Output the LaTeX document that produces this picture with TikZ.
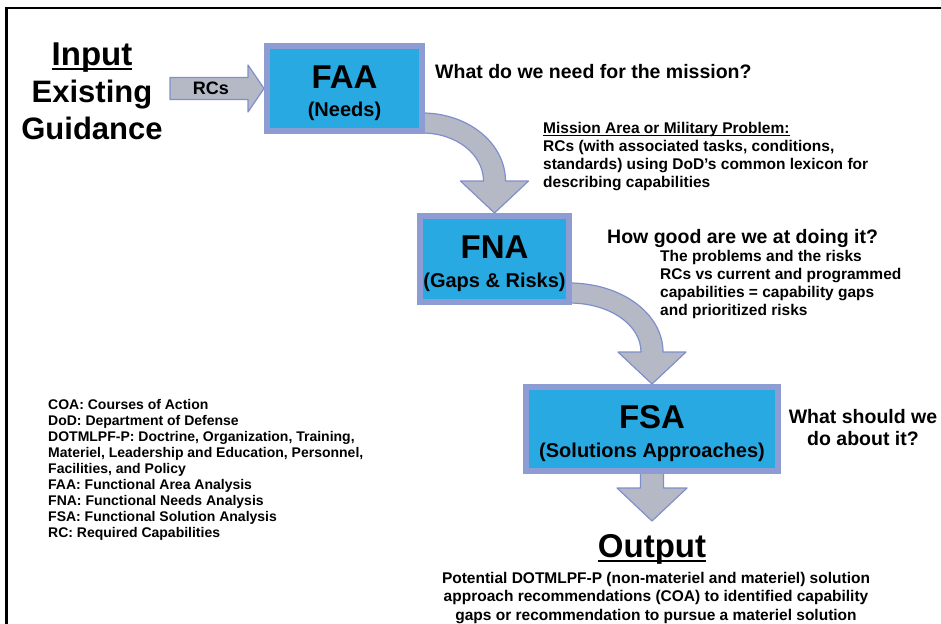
\documentclass[tikz,border=0pt]{standalone}
\usepackage{fontspec}
\setmainfont{Liberation Sans}
\usetikzlibrary{calc,backgrounds}

\definecolor{boxblue}{HTML}{29A9E1}
\definecolor{boxedge}{HTML}{8E9CD4}
\definecolor{arrowgrey}{HTML}{B5B9C6}
\definecolor{arrowedge}{HTML}{7F8FCC}

\newcommand{\fsz}[2]{\fontsize{#1}{#2}\selectfont}
\newcommand{\boxtext}[2]{\fsz{33}{36}\rule{0pt}{32pt}#1\\[13pt]\fsz{20}{24}#2}
\newsavebox{\ulbox}
\newcommand{\ulbig}[1]{\sbox{\ulbox}{#1}\rlap{\rule[-5.2pt]{\wd\ulbox}{2.6pt}}\usebox{\ulbox}}
\newcommand{\ulsmall}[1]{\sbox{\ulbox}{#1}\rlap{\rule[-2.6pt]{\wd\ulbox}{1.2pt}}\usebox{\ulbox}}

\begin{document}
\begin{tikzpicture}[x=1pt, y=-1pt,
    box/.style={rectangle, draw=boxedge, line width=6pt, fill=boxblue, inner sep=0pt, align=center, font=\bfseries},
    bigarrow/.style={draw=arrowedge, fill=arrowgrey, line width=1.2pt, line join=round},
    note/.style={inner sep=0pt, align=left, font=\bfseries}
]
\useasboundingbox (0,0) rectangle (941,623);

% Frame
\draw[line width=2.6pt] (6.5,650) -- (6.5,8) -- (960,8);

% Analysis boxes
\node[box, minimum width=155, minimum height=85] (faa) at (344.5,88.5) {\boxtext{FAA}{(Needs)}};
\node[box, minimum width=149, minimum height=86] (fna) at (494.5,259) {\boxtext{FNA}{(Gaps \& Risks)}};
\node[box, minimum width=252, minimum height=84] (fsa) at (652,429) {\boxtext{FSA}{(Solutions Approaches)}};

% Block arrows
\begin{scope}[on background layer]
\draw[bigarrow] ($(faa.west)+(-94,-11)$) -- ++(78,0) -- ++(0,-12.5) -- (faa.west) -- ++(-16,23.5) -- ++(0,-12.5) -- ++(-78,0) -- cycle;
\draw[bigarrow] ($(faa.east)+(-3,24.5)$) .. controls +(47,0) and +(0,-37) .. ($(fna.north)+(11,-32)$) -- ++(23,0) -- (fna.north) -- ++(-34,-32) -- ++(23,0) .. controls +(0,-26) and +(35,0) .. ($(faa.east)+(-3,44.5)$) -- cycle;
\draw[bigarrow] ($(fna.east)+(-3,24)$) .. controls +(53,0) and +(0,-38) .. ($(fsa.north)+(11,-32)$) -- ++(23,0) -- (fsa.north) -- ++(-34,-32) -- ++(23,0) .. controls +(0,-27) and +(41,0) .. ($(fna.east)+(-3,44)$) -- cycle;
\draw[bigarrow] ($(fsa.south)+(-11.5,-3)$) -- ++(0,17) -- ++(-23.5,0) -- ($(fsa.south)+(0,47)$) -- ++(35,-33) -- ++(-23.5,0) -- ++(0,-17) -- cycle;
\end{scope}
\node[font=\bfseries\fsz{18}{20}] (rcs) at ($(faa.west)+(-53,0)$) {RCs};

% Input and output
\node[note, align=center, font=\bfseries\fsz{31}{37}] (input) at (92,91) {{\fsz{33}{37}\ulbig{Input}}\\Existing\\Guidance};
\node[note, font=\bfseries\fsz{33}{36}, anchor=base] (output) at (652,557) {\ulbig{Output}};
\node[note, align=center, font=\bfseries\fsz{15.5}{18.5}, anchor=north] (outtext) at (656,572) {Potential DOTMLPF-P (non-materiel and materiel) solution\\approach recommendations (COA) to identified capability\\gaps or recommendation to pursue a materiel solution};

% Questions and notes
\node[note, font=\bfseries\fsz{19.5}{22}, anchor=west] (need) at (435,72) {What do we need for the mission?};
\node[note, font=\bfseries\fsz{15.5}{18}, anchor=north west] (mission) at (543,122) {\ulsmall{Mission Area or Military Problem:}\\RCs (with associated tasks, conditions,\\standards) using DoD’s common lexicon for\\describing capabilities};
\node[note, font=\bfseries\fsz{19.5}{22}, anchor=west] (good) at (607,238) {How good are we at doing it?};
\node[note, font=\bfseries\fsz{15.5}{18}, anchor=north west] (risks) at (660,250) {The problems and the risks\\RCs vs current and programmed\\capabilities = capability gaps\\and prioritized risks};
\node[note, align=center, font=\bfseries\fsz{19.5}{22}] (should) at (863,428) {What should we\\do about it?};

% Acronyms
\node[note, font=\bfseries\fsz{14}{16}, anchor=north west] (legend) at (48,399) {COA: Courses of Action\\DoD: Department of Defense\\DOTMLPF-P: Doctrine, Organization, Training,\\Materiel, Leadership and Education, Personnel,\\Facilities, and Policy\\FAA: Functional Area Analysis\\FNA: Functional Needs Analysis\\FSA: Functional Solution Analysis\\RC: Required Capabilities};

\end{tikzpicture}
\end{document}
